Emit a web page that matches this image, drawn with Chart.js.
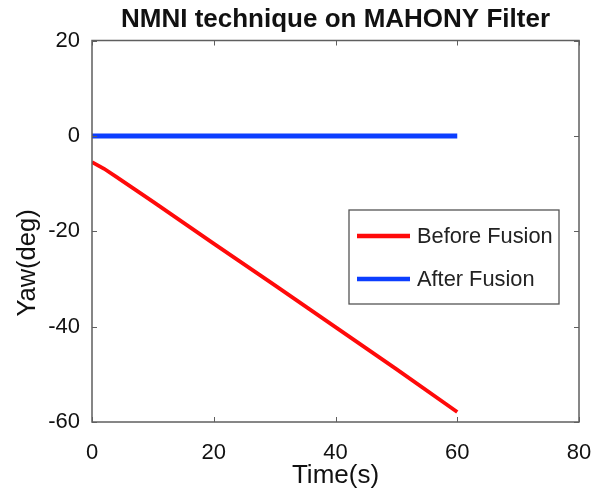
<!DOCTYPE html>
<html>
<head>
<meta charset="utf-8">
<script src="https://cdn.jsdelivr.net/npm/chart.js@4/dist/chart.umd.min.js"></script>
<style>
  html, body { margin: 0; padding: 0; background: #ffffff; }
  canvas { display: block; }
</style>
</head>
<body>
<canvas id="c" width="606" height="493"></canvas>
<script>
// ---- Data ----
const chartTitle = "NMNI technique on MAHONY Filter";
const xTitle = "Time(s)";
const yTitle = "Yaw(deg)";
const seriesLabels = ["Before Fusion", "After Fusion"];
const timeBefore = [0, 2, 4, 10, 20, 30, 40, 50, 60];
const yawBefore = [-5.5, -6.9, -8.6, -13.8, -22.6, -31.3, -40.1, -48.9, -57.9];
const timeAfter = [0, 60];
const yawAfter = [0, 0];
const xTicks = [0, 20, 40, 60, 80];
const yTicks = [-60, -40, -20, 0, 20];

const FONT = "'Liberation Sans', Arial, Helvetica, sans-serif";
const AXIS_COLOR = "#5f5f5f";

const toPoints = (xs, ys) => xs.map((x, i) => ({ x: x, y: ys[i] }));

const boxPlugin = {
  id: "boxAndTicks",
  afterDatasetsDraw(chart) {
    const { ctx, chartArea: a } = chart;
    const xs = chart.scales.x, ys = chart.scales.y;
    ctx.save();
    ctx.strokeStyle = AXIS_COLOR;
    ctx.lineWidth = 1.5;
    ctx.strokeRect(a.left, a.top, a.right - a.left, a.bottom - a.top);
    ctx.lineWidth = 1;
    const tl = 5;
    ctx.beginPath();
    xTicks.forEach(v => {
      const px = Math.round(xs.getPixelForValue(v)) + 0.5;
      ctx.moveTo(px, a.bottom); ctx.lineTo(px, a.bottom - tl);
      ctx.moveTo(px, a.top); ctx.lineTo(px, a.top + tl);
    });
    yTicks.forEach(v => {
      const py = Math.round(ys.getPixelForValue(v)) + 0.5;
      ctx.moveTo(a.left, py); ctx.lineTo(a.left + tl, py);
      ctx.moveTo(a.right, py); ctx.lineTo(a.right - tl, py);
    });
    ctx.stroke();
    ctx.restore();
  },
  afterDraw(chart) {
    const { ctx, chartArea: a } = chart;
    // y-axis title (sits slightly below the plot's vertical centre, as in the reference)
    ctx.save();
    ctx.translate(28, a.top + 222.5);
    ctx.rotate(-Math.PI / 2);
    ctx.fillStyle = "#111111";
    ctx.font = "25.5px " + FONT;
    ctx.textAlign = "center";
    ctx.textBaseline = "middle";
    ctx.fillText(yTitle, 0, 0);
    ctx.restore();

    // legend box inside the plot area
    const bx = a.left + 257, by = a.top + 169.5, bw = 210, bh = 94;
    ctx.save();
    ctx.fillStyle = "#ffffff";
    ctx.fillRect(bx, by, bw, bh);
    ctx.strokeStyle = "#555555";
    ctx.lineWidth = 1.3;
    ctx.strokeRect(bx, by, bw, bh);
    const rows = [by + 26, by + 69];
    chart.data.datasets.forEach((ds, i) => {
      const y = rows[i];
      ctx.strokeStyle = ds.borderColor;
      ctx.lineWidth = 4.5;
      ctx.beginPath();
      ctx.moveTo(bx + 8, y); ctx.lineTo(bx + 61, y);
      ctx.stroke();
      ctx.fillStyle = "#222222";
      ctx.font = "21.8px " + FONT;
      ctx.textBaseline = "middle";
      ctx.textAlign = "left";
      ctx.fillText(ds.label, bx + 68, y + 1);
    });
    ctx.restore();
  }
};

new Chart(document.getElementById("c"), {
  type: "line",
  data: {
    datasets: [
      {
        label: seriesLabels[0],
        data: toPoints(timeBefore, yawBefore),
        borderColor: "#ff0a0a",
        borderWidth: 3.8,
        pointRadius: 0,
        tension: 0,
        fill: false
      },
      {
        label: seriesLabels[1],
        data: toPoints(timeAfter, yawAfter),
        borderColor: "rgb(12,62,255)",
        borderWidth: 5,
        pointRadius: 0,
        tension: 0,
        fill: false
      }
    ]
  },
  options: {
    responsive: false,
    animation: false,
    devicePixelRatio: 1,
    layout: { padding: { top: 0, right: 27, bottom: 0, left: 0 } },
    plugins: {
      legend: { display: false },
      tooltip: { enabled: false },
      title: {
        display: true,
        fullSize: false,
        text: chartTitle,
        color: "#111111",
        font: { family: FONT, size: 26, weight: "bold", lineHeight: 1.2 },
        padding: { top: 4.5, bottom: 4.8 }
      }
    },
    scales: {
      x: {
        type: "linear",
        min: 0,
        max: 80,
        afterBuildTicks(scale) { scale.ticks = xTicks.map(v => ({ value: v })); },
        afterFit(scale) { scale.height = 71; scale.paddingLeft = 0; scale.paddingRight = 0; },
        grid: { display: false, drawTicks: false },
        border: { display: false },
        ticks: {
          color: "#111111",
          font: { family: FONT, size: 22 },
          padding: 18,
          maxRotation: 0
        },
        title: {
          display: true,
          text: xTitle,
          color: "#111111",
          font: { family: FONT, size: 26 },
          padding: { top: 0, bottom: 1.5 }
        }
      },
      y: {
        type: "linear",
        min: -60,
        max: 20,
        afterBuildTicks(scale) { scale.ticks = yTicks.map(v => ({ value: v })); },
        afterFit(scale) { scale.width = 92; },
        grid: { display: false, drawTicks: false },
        border: { display: false },
        ticks: {
          color: "#111111",
          font: { family: FONT, size: 22 },
          padding: 12
        },
        title: { display: false }
      }
    }
  },
  plugins: [boxPlugin]
});
</script>
</body>
</html>
